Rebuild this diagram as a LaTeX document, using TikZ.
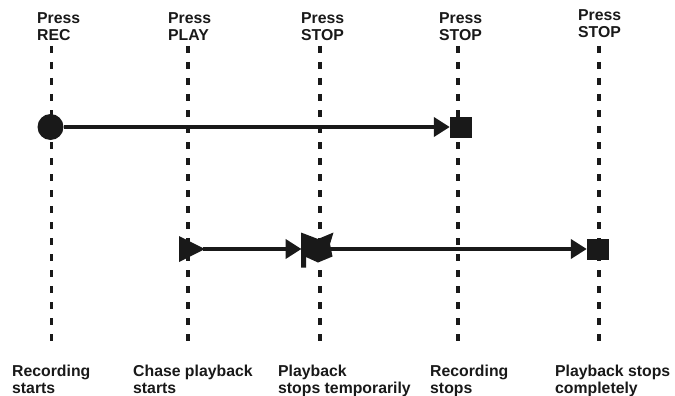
\documentclass[tikz,border=0pt]{standalone}
\usepackage{fontspec}
\setmainfont{Liberation Sans}
\usetikzlibrary{arrows.meta}
\begin{document}
\begin{tikzpicture}[x=1pt,y=-1pt,
  lbl/.style={anchor=north west,align=left,inner sep=0pt,font=\bfseries\fontsize{15.8}{17}\selectfont,text=black!90},
  guide/.style={line width=3.2pt,dash pattern=on 7pt off 9pt,black!90},
  conn/.style={line width=4.5pt,black!90,-{Triangle[length=16pt,width=19pt]}},
  sq/.style={fill=black!90,draw=none,minimum width=22pt,minimum height=21pt,inner sep=0pt},
  dot/.style={circle,fill=black!90,draw=none,minimum size=26pt,inner sep=0pt}]
\useasboundingbox (0,0) rectangle (675,396);
% guide lines
\foreach \n/\x in {a/51.5,b/188,c/320,d/458,e/599}{
  \coordinate (\n top) at (\x,46);
  \coordinate (\n bot) at (\x,341);
  \draw[guide] (\n top) -- (\n bot);
}
% top labels
\node[lbl] (ta) at (37,12.5) {Press\\REC};
\node[lbl] (tb) at (168,12.5) {Press\\PLAY};
\node[lbl] (tc) at (301,12.5) {Press\\STOP};
\node[lbl] (td) at (439,12.5) {Press\\STOP};
\node[lbl] (te) at (578,9.5) {Press\\STOP};
% bottom labels
\node[lbl] (ba) at (12,364.5) {Recording\\starts};
\node[lbl] (bb) at (133,364.5) {Chase playback\\starts};
\node[lbl] (bc) at (278,364.5) {Playback\\stops temporarily};
\node[lbl] (bd) at (430,364.5) {Recording\\stops};
\node[lbl] (be) at (555,364.5) {Playback stops\\completely};
% row 1
\node[dot] (rec) at (50.5,127) {};
\node[sq] (stopA) at (461,127) {};
\draw[conn] (rec.east) -- (stopA.west);
% row 2
\fill[black!90] (179,236) -- (205,249) -- (179,262) -- cycle;
\coordinate (play) at (203,249);
\fill[black!90] (301,232.5) -- (318,239) -- (333.5,232.5) -- (330,244) -- (332.5,256.5)
  -- (318,262.5) -- (306,257) -- (306,267.5) -- (301,267.5) -- cycle;
\coordinate (flagL) at (301.5,249);
\coordinate (flagR) at (330,249);
\node[sq] (stopB) at (598,249) {};
\draw[conn] (play) -- (flagL);
\draw[conn] (flagR) -- (stopB.west);
\end{tikzpicture}
\end{document}
